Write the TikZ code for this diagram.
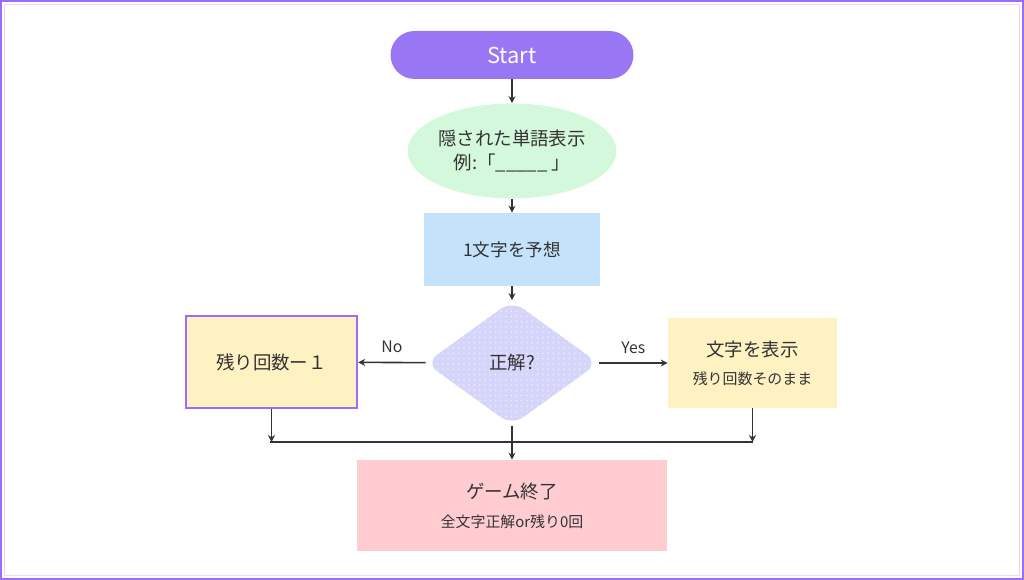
\documentclass[tikz,border=0pt]{standalone}
\usepackage{fontspec}
\setmainfont{Noto Sans CJK JP}
\usetikzlibrary{shapes.geometric,patterns,arrows.meta}
\definecolor{startc}{HTML}{9876F4}
\definecolor{greenc}{HTML}{D4F8DB}
\definecolor{bluec}{HTML}{C4E3FB}
\definecolor{lavc}{HTML}{D5D4FA}
\definecolor{yellowc}{HTML}{FFF2C2}
\definecolor{pinkc}{HTML}{FFCCD2}
\definecolor{framec}{HTML}{A06BF7}
\definecolor{txt}{HTML}{333333}
\begin{document}
\begin{tikzpicture}[x=0.02cm,y=-0.02cm,
  font=\fontsize{10.5}{13.6}\selectfont,
  every node/.style={text=txt, inner sep=0pt, align=center},
  line/.style={draw=txt, line width=0.9pt},
  arr/.style={line, -{Stealth[length=4pt,width=4pt]}}]

\useasboundingbox (0,0) rectangle (1024,580);
\draw[framec, line width=1.4pt] (1,1) rectangle (1023,579);
\draw[framec!25, line width=0.6pt] (4.5,4.5) rectangle (1019.5,575.5);

\node[rounded corners=0.48cm, fill=startc, minimum width=4.86cm, minimum height=0.96cm,
  text=white, font=\fontsize{12.5}{14}\selectfont] (start) at (512,55) {Start};
\node[ellipse, fill=greenc, minimum width=3.9cm, minimum height=1.9cm] (show) at (512,151)
  {隠された単語表示\\例:「\_\_\_\_\_ 」};
\node[fill=bluec, minimum width=3.54cm, minimum height=1.46cm, font=\fontsize{10}{12}\selectfont]
  (guess) at (512,249.5) {1文字を予想};
\node[diamond, minimum width=3.46cm, minimum height=2.5cm, rounded corners=8pt,
  preaction={fill=lavc}, pattern=dots, pattern color=white!55!lavc] (check) at (512,363) {正解?};

\node[draw=framec, line width=1.4pt, fill=yellowc, minimum width=3.42cm, minimum height=1.84cm]
  (miss) at (271.5,362) {残り回数ー１};
\node[fill=yellowc, minimum width=3.38cm, minimum height=1.8cm, font=\fontsize{10.5}{16}\selectfont]
  (hit) at (752.5,363) {文字を表示\\{\fontsize{8.5}{10}\selectfont 残り回数そのまま}};
\node[fill=pinkc, minimum width=6.22cm, minimum height=1.82cm, font=\fontsize{10.5}{16.5}\selectfont]
  (finish) at (512,505.5) {ゲーム終了\\{\fontsize{8.5}{10}\selectfont 全文字正解or残り0回}};

\coordinate (barL) at (270,442);
\coordinate (barR) at (753,442);

\draw[arr] (start) -- (show);
\draw[arr] (show) -- (guess);
\draw[arr] (guess) -- (check);
\draw[arr] (check) -- node[above=5pt, font=\fontsize{9}{10}\selectfont] {No} (miss);
\draw[arr] (check) -- node[above=5pt, font=\fontsize{9}{10}\selectfont] {Yes} (hit);
\draw[line, line width=1.7pt] (barL) -- (barR);
\draw[arr] (miss) -- (miss |- barL);
\draw[arr] (hit) -- (hit |- barR);
\draw[arr] (check) -- (finish);

\end{tikzpicture}
\end{document}
